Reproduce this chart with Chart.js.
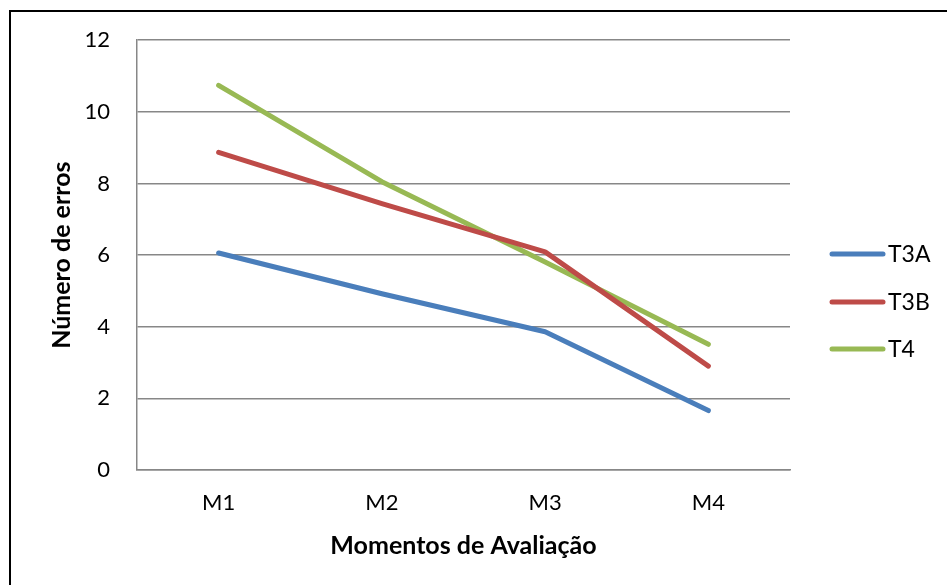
<!DOCTYPE html>
<html>
<head>
<meta charset="utf-8">
<script src="https://cdn.jsdelivr.net/npm/chart.js@4.4.1/dist/chart.umd.min.js"></script>
<style>
  html, body { margin: 0; padding: 0; background: #fff; overflow: hidden; }
  #wrap { position: relative; width: 947px; height: 585px; }
  #frame { position: absolute; left: 9px; top: 10px; width: 960px; height: 600px;
           border-top: 2px solid #000; border-left: 2px solid #000; pointer-events: none; }
  canvas { position: absolute; left: 0; top: 0; }
</style>
</head>
<body>
<div id="wrap">
  <canvas id="c" width="947" height="585"></canvas>
  <div id="frame"></div>
</div>
<script>
// Evaluation moments and error counts per group
const categories = ['M1', 'M2', 'M3', 'M4'];
const seriesNames = ['T3A', 'T3B', 'T4'];
const t3a = [6.06, 4.92, 3.86, 1.66];
const t3b = [8.87, 7.44, 6.09, 2.90];
const t4  = [10.74, 8.05, 5.81, 3.51];
const yTicks = [0, 2, 4, 6, 8, 10, 12];

const colors = ['#4A7EBB', '#BE4B48', '#98B954'];
const FONT = 'Lato, "Liberation Sans", sans-serif';

const mkSet = (label, data, color) => ({
  label, data,
  borderColor: color, backgroundColor: color,
  borderWidth: 5, pointRadius: 0, pointHoverRadius: 0,
  borderCapStyle: 'round', borderJoinStyle: 'round',
  tension: 0, fill: false
});

// Line-sample legend on the right side
const sideLegend = {
  id: 'sideLegend',
  afterDraw(chart) {
    const ctx = chart.ctx;
    const ys = [254, 302, 349];
    ctx.save();
    chart.data.datasets.forEach((ds, i) => {
      const y = ys[i];
      ctx.strokeStyle = ds.borderColor;
      ctx.lineWidth = 5;
      ctx.lineCap = 'round';
      ctx.beginPath();
      ctx.moveTo(832, y);
      ctx.lineTo(883, y);
      ctx.stroke();
      ctx.fillStyle = '#000';
      ctx.font = '23px ' + FONT;
      ctx.textBaseline = 'middle';
      ctx.textAlign = 'left';
      ctx.fillText(ds.label, 888, y + 1);
    });
    ctx.restore();
  }
};

new Chart(document.getElementById('c'), {
  type: 'line',
  data: {
    labels: categories,
    datasets: [
      mkSet(seriesNames[0], t3a, colors[0]),
      mkSet(seriesNames[1], t3b, colors[1]),
      mkSet(seriesNames[2], t4, colors[2])
    ]
  },
  plugins: [sideLegend],
  options: {
    responsive: false,
    animation: false,
    events: [],
    layout: { padding: { left: 0, top: 40, right: 157, bottom: 0 } },
    plugins: { legend: { display: false }, tooltip: { enabled: false } },
    scales: {
      x: {
        offset: true,
        grid: { display: false, drawTicks: false },
        border: { display: true, color: '#878787', width: 1.5 },
        ticks: { color: '#000', font: { family: FONT, size: 22 }, padding: 20 },
        title: { display: true, text: 'Momentos de Avaliação', color: '#000',
                 font: { family: FONT, size: 25, weight: 'bold' },
                 padding: { top: 0, bottom: 24 } },
        afterFit(s) { s.height = 115; }
      },
      y: {
        min: 0, max: 12,
        afterBuildTicks(s) { s.ticks = yTicks.map(v => ({ value: v })); },
        grid: { color: '#878787', lineWidth: 1.5, drawTicks: false },
        border: { display: true, color: '#878787', width: 1.5 },
        ticks: { color: '#000', font: { family: FONT, size: 22 }, padding: 27 },
        title: { display: true, text: 'Número de erros', color: '#000',
                 font: { family: FONT, size: 25, weight: 'bold' },
                 padding: { top: 47, bottom: 0 } },
        afterFit(s) { s.width = 137; }
      }
    }
  }
});
</script>
</body>
</html>
